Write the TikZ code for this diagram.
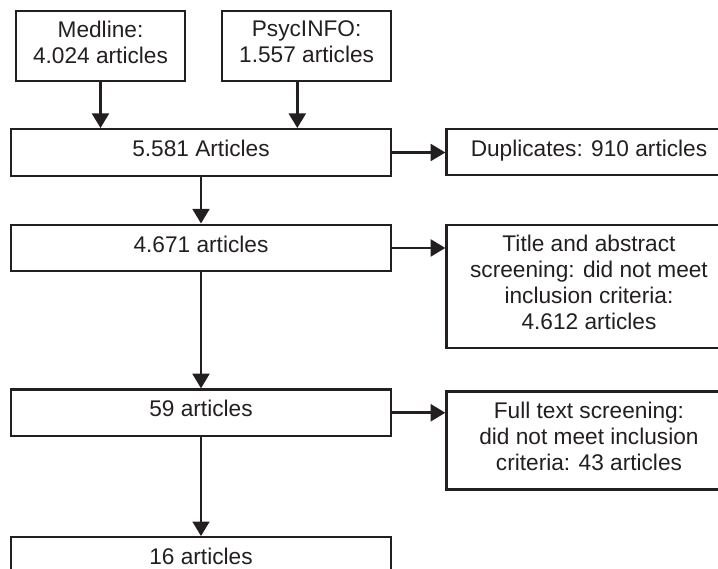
\documentclass[tikz,border=0pt]{standalone}
\usepackage{fontspec}
\setmainfont{Liberation Sans}
\usetikzlibrary{arrows.meta,positioning}
\definecolor{ink}{RGB}{35,31,32}

\begin{document}
\begin{tikzpicture}[
  node distance=35pt and 40pt,
  every node/.style={draw=ink, line width=1.6pt, align=center, text=ink,
                      font=\fontsize{17}{19.5}\selectfont,
                      execute at end node={\rule[-6pt]{0pt}{6pt}}},
  source/.style={minimum width=126.75pt, minimum height=52.5pt},
  stage/.style={minimum width=285pt, minimum height=35pt},
  excl/.style={minimum width=213.75pt},
  arr/.style={-{Triangle[length=11pt, width=12.5pt]}, line width=2.2pt, draw=ink}
]
\path[use as bounding box, clip] (-150.75pt,-311.625pt) rectangle (387.75pt,114.375pt);

\node (a5581) [stage] {5.581 Articles};
\node (medline) [source, above=34.5pt of a5581.north west, anchor=south west, xshift=3.75pt] {Medline:\\4.024 articles};
\node (psyc) [source, right=26.25pt of medline] {PsycINFO:\\1.557 articles};
\node (a4671) [stage, below=of a5581] {4.671 articles};
\node (a59) [stage, below=87pt of a4671] {59 articles};
\node (a16) [stage, below=74.25pt of a59] {16 articles};

\node (dup) [excl, minimum height=34.5pt, right=of a5581.north east, anchor=north west] {Duplicates: 910 articles};
\node (title) [excl, minimum height=92.25pt, right=of a4671.north east, anchor=north west] {Title and abstract\\screening: did not meet\\inclusion criteria:\\4.612 articles};
\node (full) [excl, minimum height=73.5pt, right=of a59.north east, anchor=north west, yshift=-1.5pt] {Full text screening:\\did not meet inclusion\\criteria: 43 articles};

\coordinate (psycfoot) at ([xshift=-7pt]psyc.south);

\draw[arr] (medline.south) -- (medline.south |- a5581.north);
\draw[arr] (psycfoot) -- (psycfoot |- a5581.north);
\draw[arr] (a5581) -- (a4671);
\draw[arr] (a4671) -- (a59);
\draw[arr] (a59) -- (a16);
\draw[arr] (a5581.east) -- (a5581.east -| dup.west);
\draw[arr] (a4671.east) -- (a4671.east -| title.west);
\draw[arr] (a59.east) -- (a59.east -| full.west);
\end{tikzpicture}
\end{document}
